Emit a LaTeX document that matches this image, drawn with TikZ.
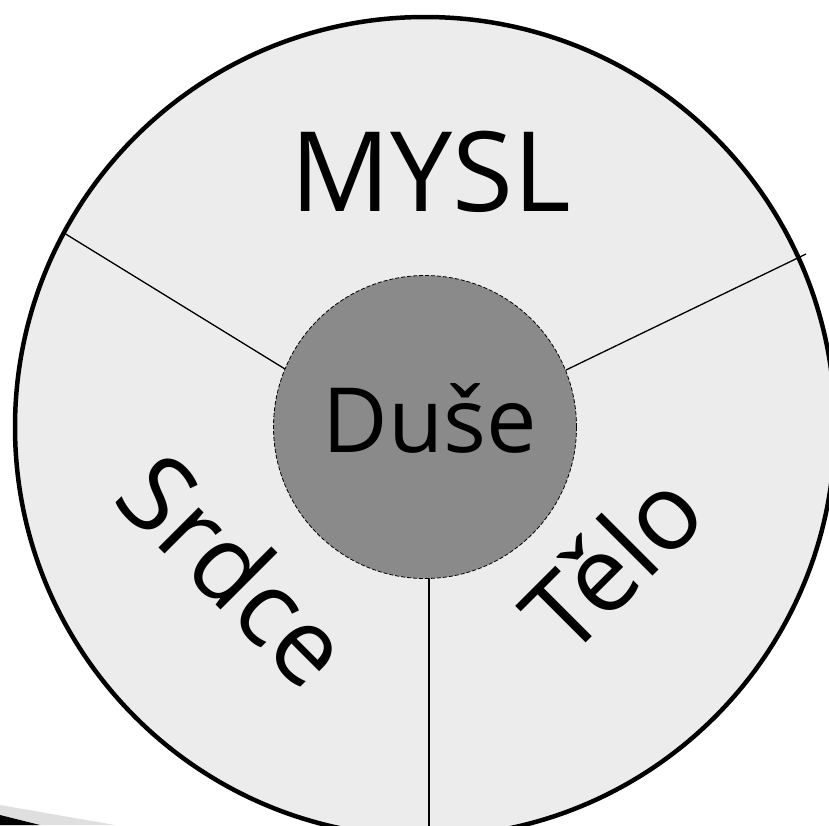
\documentclass[tikz,border=0pt]{standalone}
\usepackage{fontspec}
\setmainfont{Open Sans}
\definecolor{ringfill}{HTML}{ECECEC}
\definecolor{corefill}{HTML}{8A8A8A}
\begin{document}
\begin{tikzpicture}[x=1pt,y=-1pt,
  ringlabel/.style={font=\fontsize{106}{106}\selectfont, inner sep=0pt},
  divider/.style={line width=1.3pt, black}]
\useasboundingbox (0,0) rectangle (829,825);
\clip (0,0) rectangle (829,825);
% shadow remnant in the lower left corner
\fill[gray!25] (0,805) -- (115,825) -- (0,825) -- cycle;
\fill[black] (0,815) -- (40,825) -- (0,825) -- cycle;
% outer ring
\node[circle, minimum size=820pt, draw=black, line width=4.5pt, fill=ringfill, inner sep=0pt] (ring) at (425,427) {};
% dividing lines
\coordinate (lout) at (64,233);
\coordinate (lin) at (285,369);
\coordinate (rout) at (806,254);
\coordinate (rin) at (566,370);
\coordinate (bin) at (429,578);
\coordinate (bout) at (429,830);
\draw[divider] (lout) -- (lin);
\draw[divider] (rout) -- (rin);
\draw[line width=2pt] (bin) -- (bout);
% core
\node[circle, minimum size=303pt, draw=black, dashed, dash pattern=on 4pt off 2pt, line width=0.8pt, fill=corefill, inner sep=0pt] (core) at (425,427) {};
\node[font=\fontsize{90}{90}\selectfont, inner sep=0pt] (duse) at (430,418) {Duše};
\node[font=\fontsize{111}{111}\selectfont, inner sep=0pt] (mysl) at (431,172) {MYSL};
\node[ringlabel, rotate=-45] (srdce) at (236,569) {Srdce};
\node[ringlabel, rotate=45] (telo) at (611,561) {Tělo};
\end{tikzpicture}
\end{document}
